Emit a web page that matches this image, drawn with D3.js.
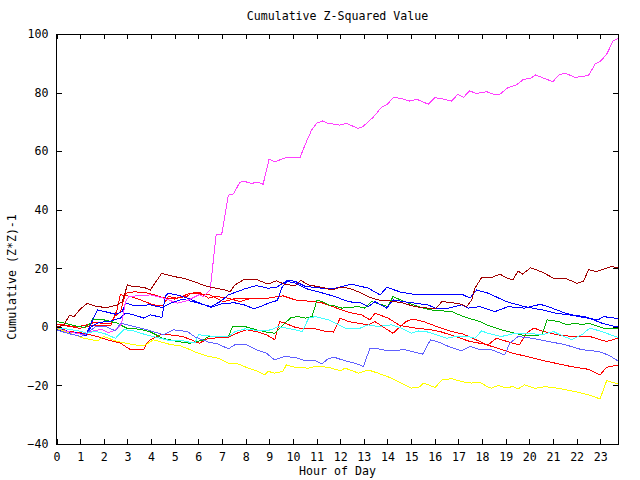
<!DOCTYPE html>
<html>
<head>
<meta charset="utf-8">
<script src="https://cdn.jsdelivr.net/npm/d3@7"></script>
<style>
  html, body { margin: 0; padding: 0; background: #fff; }
  svg { display: block; }
  text { font-family: "DejaVu Sans Mono", monospace; font-size: 11.6px; fill: #000; }
</style>
</head>
<body>
<svg id="chart" width="640" height="480"></svg>
<script>
// ---------- data ----------
const titleText = "Cumulative Z-Squared Value";
const xTitle = "Hour of Day";
const yTitle = "Cumulative (Z*Z)-1";
const xTicks = [0,1,2,3,4,5,6,7,8,9,10,11,12,13,14,15,16,17,18,19,20,21,22,23];
const yTicks = [-40,-20,0,20,40,60,80,100];
const xDomain = [0, 23.75];
const yDomain = [-40, 100];

// each series: [hour, cumulative value]
const redA = [[0,1],[0.4,0.5],[0.8,0],[1.2,0.5],[1.6,1.5],[2.0,1.2],[2.3,1],[2.55,5.5],[2.7,11],[3.13,10.4],[3.55,9.2],[4.1,7.5],[4.5,7.2],[4.74,10.4],[5.06,9.8],[5.54,10.5],[5.69,11.5],[6.04,11.8],[6.43,9.8],[6.71,10.4],[7.27,9.8],[7.76,8.6],[8.24,9.8],[8.94,9.8],[9.58,10.6],[10.1,9.2],[10.88,8.6],[11.23,8.2],[12.0,6],[12.35,5],[12.91,4.1],[13.26,2.4],[13.47,4.7],[14.02,3],[14.52,0.5],[15.16,-0.4],[15.82,-1],[16.22,-1.6],[16.65,-2.7],[17.49,-5],[18.26,-6.1],[18.61,-3.9],[19.31,-5.6],[19.59,-6.1],[19.87,-2.2],[20.19,-0.4],[20.61,-1.6],[21.16,-2.7],[21.86,-3.3],[22.56,-3.3],[23.26,-5],[23.75,-3.9]];
const redB = [[0,0.8],[0.5,0.2],[1.0,-0.5],[1.5,0.5],[2.0,0.3],[2.3,0.5],[2.45,3.5],[2.7,5],[2.92,11.5],[3.3,12],[3.9,11.5],[4.5,10],[5.0,9.5],[5.66,11.5],[6.5,10.9],[7.06,8.6],[7.62,9.8],[8.24,9.8]];
const redC = [[0,0.3],[0.47,-1.5],[1.17,-2.2],[1.73,-3.3],[2.15,-4.4],[2.71,-5.6],[3.13,-7.8],[3.69,-7.8],[3.83,-5.6],[3.97,-4.4],[4.46,-2.5],[4.74,-2.7],[5.34,-3.3],[5.69,-4.4],[6.04,-5.6],[6.43,-3.9],[7.27,-3.6],[7.62,-2.2],[8.04,-1],[8.53,-1.8],[8.88,-2.7],[9.23,-4.4],[9.44,1.8],[9.65,1.3],[10.11,-0.2],[10.53,-0.7],[10.95,-0.7],[11.3,-1.4],[11.72,-1.8],[11.93,1.8],[12.0,3],[12.35,1.8],[13.18,0.7],[13.47,1.8],[14.23,-2.2],[14.78,1.8],[15.07,2.7],[15.53,1.8],[16.02,0.3],[16.72,-1.6],[17.21,-2.5],[17.91,-5],[18.19,-6.1],[19.31,-9],[20.75,-11.8],[21.73,-13.5],[22.5,-14.5],[22.99,-16.4],[23.26,-13.8],[23.75,-13]];
const green = [[0,1.8],[0.34,1.3],[0.76,0.4],[1.17,-0.2],[1.46,1.3],[1.52,2.7],[2.0,2.4],[2.55,1.3],[2.96,-0.4],[3.5,-0.8],[3.94,-1.6],[4.5,-3.9],[5.1,-5],[5.66,-5.6],[6.22,-4.4],[6.43,-3.3],[7.27,-3.3],[7.45,0.1],[7.97,0.1],[8.46,-1],[8.88,-1.8],[9.23,-2.2],[9.58,0.7],[9.93,3.2],[10.21,3.5],[10.53,3],[10.81,3.5],[11.02,9.2],[11.23,8.6],[11.51,7.5],[11.79,7.1],[12.07,6.4],[12.77,6.9],[13.05,6.4],[13.33,8.6],[14.02,6.9],[14.23,10.3],[14.73,8.6],[15.3,6.9],[15.82,5.8],[16.72,5.2],[17.21,3.5],[17.91,1.8],[18.19,0.7],[18.81,-1],[19.38,-2.2],[19.87,-3.1],[20.54,-2.7],[20.75,2.4],[21.24,1.8],[21.59,0.7],[21.94,1.3],[22.22,0.7],[22.5,1.3],[22.91,0.1],[23.27,-0.7],[23.75,-0.6]];
const blueA = [[0,-1],[0.5,-1.8],[1.0,-2.2],[1.25,-2.7],[1.5,1.8],[1.73,5.8],[2.15,5],[2.5,4.3],[2.78,5.2],[2.92,8.1],[3.27,7.3],[3.97,7.5],[4.46,6.6],[4.8,8],[5.34,9.5],[6.04,8],[6.53,6.9],[6.92,8.6],[7.27,10.9],[7.97,13],[8.46,14.1],[8.94,13.2],[9.3,13.5],[9.79,16],[10.11,15.5],[10.53,13.8],[11.23,13.2],[11.79,13.2],[12.48,14.6],[13.19,13.2],[13.69,10.9],[13.97,13.5],[14.58,11.8],[15.3,10.9],[16.02,10.9],[16.82,11.2],[17.21,10.9],[17.49,9.8],[17.77,12.6],[18.26,11.5],[19.03,8.6],[19.8,6.9],[20.54,5.8],[21.1,4.7],[21.66,4.1],[22.36,3.5],[23.06,1.3],[23.62,0.1],[23.75,0]];
const blueB = [[0,-0.5],[0.6,-1.8],[1.25,-2.9],[1.46,0],[1.8,1.5],[2.3,2],[2.7,3],[2.92,4.7],[3.27,4.1],[3.69,3],[3.97,4.1],[4.46,3.2],[4.6,10.5],[4.74,11.5],[5.34,10.4],[6.04,8.2],[6.53,6.6],[7.04,8],[7.54,8.2],[7.94,7.5],[8.34,6.2],[8.64,7],[9.04,8.3],[9.34,9],[9.54,13.5],[9.74,15.5],[10.08,15],[10.58,13],[11.28,11.5],[11.79,10.3],[12.35,8.6],[12.91,8.1],[13.19,6.9],[13.47,8.6],[13.97,6.4],[14.23,9.2],[14.86,8.4],[15.72,7.5],[16.02,6.4],[16.58,6.4],[17.14,7.5],[17.42,6.4],[17.91,6.9],[18.54,5.2],[19.1,6.9],[19.8,6.4],[20.47,7.7],[20.96,6.4],[21.52,4.7],[22.08,3.5],[22.91,2.4],[23.13,3.5],[23.62,3],[23.75,2.8]];
const magenta = [[0,-0.5],[0.47,-1.6],[1.17,-2.7],[1.5,-1.5],[1.9,-0.8],[2.2,-2],[2.5,-1],[2.75,1],[2.92,8.6],[3.06,10.4],[3.97,10.9],[4.53,9.8],[5.12,8.1],[5.52,8.9],[6.04,11],[6.22,10.3],[6.5,12.6],[6.75,31.4],[6.99,31.7],[7.27,45],[7.48,45.4],[7.76,49.4],[7.97,49.6],[8.25,49],[8.53,49.4],[8.74,48.7],[8.99,57.2],[9.23,56.4],[9.72,57.8],[10.3,57.8],[10.51,62.1],[10.79,67.2],[11.0,69.5],[11.25,70.3],[11.49,69.5],[11.98,68.9],[12.26,69.5],[12.75,67.8],[12.96,68.4],[13.4,71.6],[13.75,75],[13.96,75.8],[14.26,78.3],[14.52,78.1],[14.94,77.1],[15.24,77.7],[15.73,76],[16.0,78.3],[16.35,77.8],[16.7,77.1],[16.98,79.4],[17.22,78.4],[17.47,80.6],[17.75,79.7],[18.19,80.3],[18.47,79.5],[18.75,79.4],[19.1,81.7],[19.45,82.6],[19.75,84.5],[20.05,84.9],[20.26,86],[20.61,84.9],[21.0,83.7],[21.24,86],[21.52,86.6],[21.94,85.2],[22.5,85.8],[22.78,89.7],[23.02,90.8],[23.27,93.1],[23.55,97.7],[23.75,98.5]];
const cyan = [[0,-0.3],[0.5,-0.8],[1.0,-1.5],[1.3,-2.2],[1.6,-1.5],[2.0,-2.2],[2.5,-3.9],[2.65,-2.5],[2.85,-1],[3.2,-1.2],[3.7,-2.5],[4.2,-3.5],[4.7,-4.5],[5.2,-4.5],[5.6,-5.2],[5.87,-5.2],[6.01,-2.7],[6.71,-3.3],[7.27,-3.3],[7.55,-1.6],[7.97,-0.7],[8.67,-1.4],[9.09,-1],[9.37,0.1],[10.11,-1],[10.39,-1.6],[10.67,3],[10.95,3.5],[11.51,2.4],[11.9,0.8],[12.21,-0.4],[12.77,-0.7],[13.18,0.7],[13.6,0.1],[14.17,0.7],[14.58,-0.4],[15.01,-2.2],[15.32,-1.4],[15.74,-1.8],[16.51,-3.9],[16.86,-3.3],[17.42,-3.3],[17.7,-3.9],[17.98,-1.4],[18.26,-2.2],[18.82,-3.3],[19.38,-2.2],[19.94,-2.2],[20.54,-2.7],[21.03,-1.6],[21.3,-2.7],[21.8,-4.4],[22.22,-2.7],[22.56,-0.4],[23.06,-1.6],[23.75,-3.6]];
const darkRed = [[0,0],[0.3,0.5],[0.55,3.9],[0.75,3.5],[0.97,5.8],[1.3,8],[1.73,6.9],[2.15,6.6],[2.57,7.5],[2.78,8.6],[3.0,14.3],[3.2,13.8],[3.69,13.5],[3.97,12.6],[4.45,18.3],[4.95,17.2],[5.38,16.6],[5.9,15.2],[6.36,13.8],[7.13,12.6],[7.34,12.0],[7.55,14.3],[7.9,16.0],[8.46,16.2],[8.94,14.6],[9.3,15.7],[9.65,14.6],[10.1,14.0],[10.32,15.9],[10.67,14.3],[11.23,13.5],[11.65,12.6],[12.0,13.5],[12.35,13.2],[12.77,12.0],[13.19,10.3],[13.6,9.2],[14.02,8.9],[14.58,8.3],[15.16,6.9],[16.02,6.1],[16.3,8.6],[16.72,8.3],[17.14,7.7],[17.35,6.9],[17.56,9.2],[17.7,13.2],[17.98,16.8],[18.4,16.8],[18.75,18],[19.03,16.8],[19.31,16],[19.52,19.1],[19.72,18],[20.05,20.2],[20.54,18.7],[21.03,16.6],[21.52,16.6],[22.01,14.9],[22.29,15.5],[22.5,19.5],[22.85,18.9],[23.48,20.6],[23.75,20.2]];
const yellow = [[0,-0.5],[0.5,-2],[1.17,-3.9],[1.73,-4.8],[2.0,-3.3],[2.57,-5],[3.24,-6.1],[3.7,-6.5],[4.1,-4.4],[4.36,-5],[4.8,-6],[5.24,-6.5],[5.66,-7.8],[5.87,-8.6],[6.43,-10.1],[6.85,-10.7],[7.27,-12.4],[7.69,-12.7],[8.11,-14.1],[8.53,-15.2],[8.81,-16.4],[8.95,-15.2],[9.23,-15.8],[9.58,-15.2],[9.72,-13],[10.11,-13.9],[10.67,-14.1],[10.95,-13.5],[11.51,-13.8],[12.0,-15],[12.21,-14.1],[12.77,-15.8],[13.18,-14.7],[13.6,-15.8],[14.17,-17.5],[14.58,-19.2],[15.01,-20.9],[15.32,-20.7],[15.53,-19.2],[16.02,-20.7],[16.3,-18.1],[16.72,-17.7],[17.14,-18.7],[17.56,-19.2],[17.91,-18.9],[18.26,-20.6],[18.4,-20.9],[18.68,-20],[19.0,-20.8],[19.31,-20.4],[19.52,-21.2],[19.8,-19.8],[20.26,-21],[20.68,-20.4],[21.24,-21],[21.94,-22.1],[22.5,-23.2],[22.99,-24.6],[23.27,-18.4],[23.62,-19.2],[23.75,-19.5]];
const slate = [[0,-1],[0.47,-2.2],[1.04,-3.3],[1.3,-2],[1.66,0.1],[2.1,0.1],[2.5,-1.4],[2.71,1.3],[3.27,0.1],[3.83,-1],[4.53,-2.7],[4.95,-1],[5.54,-1.6],[5.87,-3.5],[6.43,-5.2],[6.85,-5.9],[7.27,-7.5],[7.55,-6.1],[7.97,-5.9],[8.46,-7.8],[8.88,-9],[9.23,-11.3],[9.65,-10.1],[10.11,-10.5],[10.53,-11.6],[10.95,-11.6],[11.23,-12.7],[11.51,-10.7],[11.79,-10.5],[12.21,-11.6],[12.63,-12.4],[12.98,-13.5],[13.26,-7.3],[13.6,-7.5],[14.02,-8.2],[14.73,-7.8],[15.49,-9.3],[15.82,-4.4],[16.16,-5.2],[16.58,-6.7],[17.14,-8.2],[17.49,-6.7],[17.91,-7.8],[18.4,-7.8],[18.96,-9.6],[19.17,-5.6],[19.52,-3.3],[20.12,-3.9],[20.82,-5],[21.52,-6.1],[22.22,-7.8],[22.91,-8.4],[23.34,-9.6],[23.75,-11.6]];

const seriesList = [redA, redB, redC, green, blueA, blueB, magenta, cyan, darkRed, yellow, slate];
const seriesColors = ["#ff0000","#ff0000","#ff0000","#00b000","#0000ff","#0000ff","#ff40ff","#40ffff","#a00000","#ffff00","#6060ff"];

// ---------- layout ----------
const plotLeft = 56.5, plotRight = 618, plotTop = 34, plotBottom = 444;
const svg = d3.select("#chart");

const x = d3.scaleLinear().domain(xDomain).range([plotLeft, plotRight]);
const y = d3.scaleLinear().domain(yDomain).range([plotBottom, plotTop]);

// lines
const line = d3.line().x(d => x(d[0])).y(d => y(d[1]));
svg.append("g").selectAll("path").data(seriesList).join("path")
  .attr("d", d => line(d))
  .attr("fill", "none")
  .attr("stroke", (d, i) => seriesColors[i])
  .attr("stroke-width", 1)
  .attr("shape-rendering", "crispEdges");

// axes (ticks inward, mirrored)
const gx = svg.append("g").attr("transform", `translate(0,${plotBottom})`)
  .call(d3.axisBottom(x).tickValues(xTicks).tickSizeInner(-5).tickSizeOuter(0).tickPadding(9).tickFormat(d3.format("d")));
const gxt = svg.append("g").attr("transform", `translate(0,${plotTop})`)
  .call(d3.axisTop(x).tickValues(xTicks).tickSizeInner(-5).tickSizeOuter(0).tickFormat(""));
const gy = svg.append("g").attr("transform", `translate(${plotLeft},0)`)
  .call(d3.axisLeft(y).tickValues(yTicks).tickSizeInner(-5).tickSizeOuter(0).tickPadding(8).tickFormat(d3.format("d")));
const gyr = svg.append("g").attr("transform", `translate(${plotRight},0)`)
  .call(d3.axisRight(y).tickValues(yTicks).tickSizeInner(-5).tickSizeOuter(0).tickFormat(""));
[gx, gxt, gy, gyr].forEach(g => {
  g.select(".domain").remove();
  g.selectAll("line").attr("stroke", "#000").attr("shape-rendering", "crispEdges");
  g.selectAll("text").attr("font-family", "DejaVu Sans Mono, monospace").attr("font-size", "11.6px").attr("fill", "#000");
});

// border
svg.append("rect")
  .attr("x", plotLeft).attr("y", plotTop)
  .attr("width", plotRight - plotLeft).attr("height", plotBottom - plotTop)
  .attr("fill", "none").attr("stroke", "#000").attr("stroke-width", 1)
  .attr("shape-rendering", "crispEdges");

// titles
svg.append("text").attr("x", 337.5).attr("y", 20).attr("text-anchor", "middle").text(titleText);
svg.append("text").attr("x", 337.5).attr("y", 475).attr("text-anchor", "middle").text(xTitle);
svg.append("text").attr("transform", "translate(16,277) rotate(-90)").attr("text-anchor", "middle").text(yTitle);
</script>
</body>
</html>
